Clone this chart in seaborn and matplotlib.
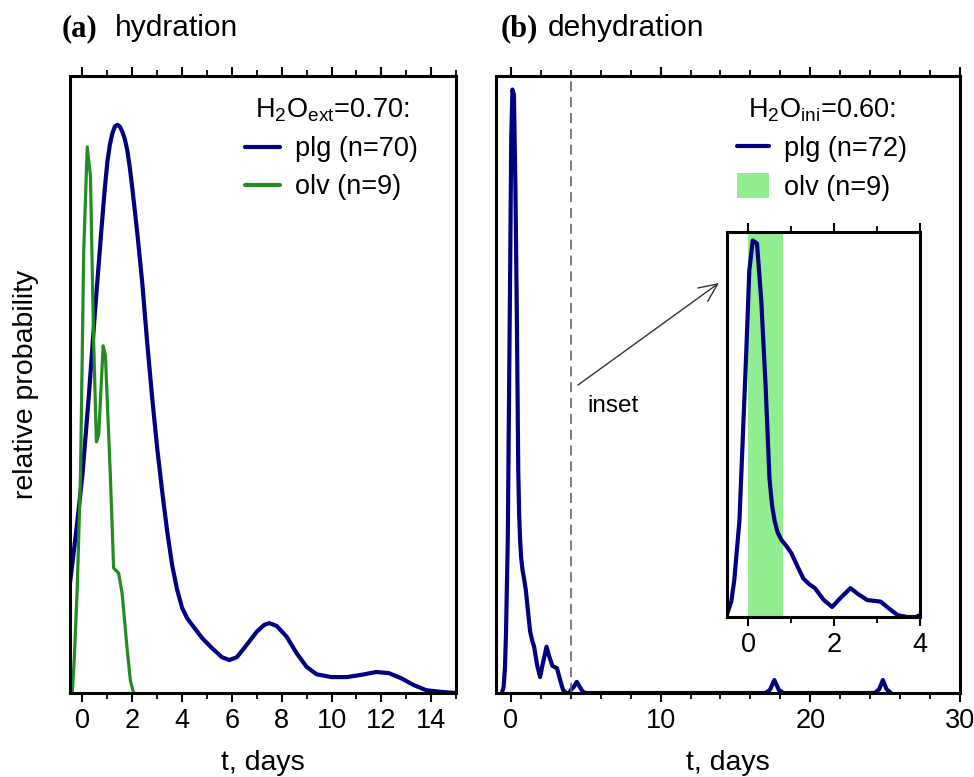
import numpy as np
import matplotlib
matplotlib.use('Agg')
from matplotlib import pyplot as plt
from matplotlib.lines import Line2D
from matplotlib.patches import Patch
from matplotlib.ticker import MultipleLocator
import seaborn as sns

# (a) hydration, H2O_ext = 0.70
t_plg_a = [-0.5, -0.25, 0.0, 0.25, 0.5, 0.75, 0.9, 1.0, 1.1, 1.2, 1.3, 1.4, 1.5, 1.6, 1.7, 1.8,
           1.9, 2.0, 2.2, 2.4, 2.6, 2.8, 3.0, 3.2, 3.4, 3.6, 3.8, 4.0, 4.2, 4.4, 4.8, 5.2, 5.6,
           5.9, 6.2, 6.6, 7.0, 7.3, 7.5, 7.8, 8.2, 8.6, 9.0, 9.4, 10.0, 10.6, 11.2, 11.8, 12.3,
           12.8, 13.3, 13.8, 14.4, 15.0]
p_plg_a = [0.194, 0.285, 0.385, 0.52, 0.67, 0.81, 0.89, 0.935, 0.965, 0.985, 0.997, 1.0, 0.997,
           0.988, 0.975, 0.955, 0.925, 0.889, 0.810, 0.722, 0.616, 0.519, 0.431, 0.355, 0.285,
           0.225, 0.182, 0.150, 0.132, 0.120, 0.097, 0.079, 0.063, 0.058, 0.063, 0.085, 0.108,
           0.120, 0.123, 0.118, 0.099, 0.070, 0.046, 0.033, 0.028, 0.028, 0.032, 0.037, 0.035,
           0.026, 0.014, 0.005, 0.002, 0.0]
t_olv_a = [-0.41, -0.33, -0.21, -0.08, 0.05, 0.19, 0.32, 0.45, 0.56, 0.65, 0.83, 0.92, 1.12,
           1.25, 1.45, 1.59, 1.79, 1.92, 2.05]
p_olv_a = [0.0, 0.06, 0.185, 0.382, 0.778, 0.961, 0.910, 0.614, 0.442, 0.454, 0.611, 0.595,
           0.382, 0.220, 0.211, 0.176, 0.079, 0.023, 0.0]

# (b) dehydration, H2O_ini = 0.60
t_plg_b = [-0.6, -0.49, -0.40, -0.33, -0.21, -0.13, -0.05, 0.02, 0.10, 0.20, 0.30, 0.40, 0.49,
           0.55, 0.61, 0.68, 0.77, 0.88, 1.0, 1.15, 1.28, 1.42, 1.55, 1.75, 1.95, 2.15, 2.38,
           2.55, 2.77, 3.08, 3.3, 3.48, 3.7, 3.9, 4.0, 4.2, 4.4, 4.6, 4.8, 5.0, 17.0, 17.3, 17.6,
           17.9, 18.2, 24.3, 24.6, 24.85, 25.1, 25.4]
p_plg_b = [0.0, 0.01, 0.04, 0.096, 0.25, 0.47, 0.69, 0.90, 0.978, 0.97, 0.82, 0.60, 0.36, 0.29,
           0.25, 0.22, 0.20, 0.185, 0.166, 0.13, 0.10, 0.085, 0.075, 0.045, 0.026, 0.05, 0.075,
           0.06, 0.044, 0.04, 0.02, 0.005, 0.0, 0.0, 0.005, 0.01, 0.018, 0.01, 0.002, 0.0, 0.0,
           0.005, 0.021, 0.005, 0.0, 0.0, 0.006, 0.021, 0.006, 0.0]
olv_span_b = [0.0, 0.8]
inset_cut = 4.0

blue = '#000080'
green = '#228B22'
lightgreen = '#90EE90'

sns.set_theme(style='ticks')
plt.rcParams['font.family'] = ['Liberation Sans', 'DejaVu Sans']
plt.rcParams['mathtext.fontset'] = 'custom'
plt.rcParams['mathtext.rm'] = 'Liberation Sans'
plt.rcParams['mathtext.it'] = 'Liberation Sans'
plt.rcParams['mathtext.default'] = 'regular'
plt.rcParams['axes.linewidth'] = 2.2
plt.rcParams['axes.edgecolor'] = 'black'
plt.rcParams['text.color'] = 'black'
plt.rcParams['axes.labelcolor'] = 'black'
plt.rcParams['xtick.color'] = 'black'
plt.rcParams['legend.labelcolor'] = 'black'


def style_axis(ax, major, minor, size=19.5):
    ax.xaxis.set_major_locator(MultipleLocator(major))
    ax.xaxis.set_minor_locator(MultipleLocator(minor))
    ax.tick_params(axis='x', which='both', direction='out', top=True, bottom=True,
                   labelsize=size, colors='black', labelcolor='black', pad=4)
    ax.tick_params(axis='x', which='major', length=6.5, width=1.5)
    ax.tick_params(axis='x', which='minor', length=4, width=1.3)
    ax.tick_params(axis='y', left=False, labelleft=False)
    ax.set_ylabel('')
    for s in ax.spines.values():
        s.set_visible(True)
        s.set_color('black')


fig = plt.figure(figsize=(9.74, 7.77), dpi=100)
ax1 = fig.add_axes([0.0719, 0.1081, 0.3963, 0.7941])
ax2 = fig.add_axes([0.5092, 0.1081, 0.4764, 0.7941])
ax3 = fig.add_axes([0.7464, 0.2059, 0.1982, 0.4955])

# panel (a)
sns.lineplot(x=t_plg_a, y=p_plg_a, ax=ax1, color=blue, lw=3.0, sort=False)
sns.lineplot(x=t_olv_a, y=p_olv_a, ax=ax1, color=green, lw=2.3, sort=False)
ax1.set_xlim(-0.5, 15)
ax1.set_ylim(0, 1.086)
style_axis(ax1, 2, 1)
ax1.set_xlabel('t, days', fontsize=20.5, labelpad=12)
ax1.set_ylabel('relative probability', fontsize=20.5, labelpad=22)
h1 = [Line2D([], [], color=blue, lw=3.0), Line2D([], [], color=green, lw=3.0)]
leg1 = ax1.legend(h1, ['plg (n=70)', 'olv (n=9)'], title='H$_2$O$_{ext}$=0.70:',
                  loc='upper right', bbox_to_anchor=(0.902, 0.967), frameon=False,
                  fontsize=19.5, title_fontsize=19.5, handlelength=1.3, handletextpad=0.55,
                  labelspacing=0.45, borderpad=0, borderaxespad=0)

# panel (b)
sns.lineplot(x=t_plg_b, y=p_plg_b, ax=ax2, color=blue, lw=3.0, sort=False)
ax2.axvline(inset_cut, color='#666666', lw=1.2, ls=(0, (6, 3.5)))
ax2.set_xlim(-1, 30)
ax2.set_ylim(0, 1.0)
style_axis(ax2, 10, 2)
ax2.set_xlabel('t, days', fontsize=20.5, labelpad=12)
h2 = [Line2D([], [], color=blue, lw=3.0), Patch(facecolor=lightgreen, edgecolor='none')]
leg2 = ax2.legend(h2, ['plg (n=72)', 'olv (n=9)'], title='H$_2$O$_{ini}$=0.60:',
                  loc='upper right', bbox_to_anchor=(0.886, 0.967), frameon=False,
                  fontsize=19.5, title_fontsize=19.5, handlelength=1.2, handleheight=1.05,
                  handletextpad=0.55, labelspacing=0.4, borderpad=0, borderaxespad=0)
ax2.annotate('', xy=(719, 777 - 283), xycoords='figure pixels',
             xytext=(578, 777 - 385), textcoords='figure pixels',
             arrowprops=dict(arrowstyle='->,head_length=1.1,head_width=0.5', color='#333333',
                             lw=1.0, shrinkA=0, shrinkB=0))
fig.text(587 / 974, 1 - 412 / 777, 'inset', fontsize=17.5, va='baseline', ha='left')

# inset
ax3.axvspan(olv_span_b[0], olv_span_b[1], color=lightgreen, lw=0, zorder=0)
sns.lineplot(x=t_plg_b, y=p_plg_b, ax=ax3, color=blue, lw=3.0, sort=False)
ax3.set_xlim(-0.5, 4)
ax3.set_ylim(0, 1.0)
style_axis(ax3, 2, 1)
ax3.set_xlabel('')
ax3.set_facecolor('white')

# panel titles
fig.text(62 / 974, 1 - 36 / 777, '(a)', fontsize=22, fontweight='bold',
         family=['Liberation Serif', 'DejaVu Serif'], va='baseline')
fig.text(115 / 974, 1 - 36 / 777, 'hydration', fontsize=21.5, va='baseline')
fig.text(501 / 974, 1 - 36 / 777, '(b)', fontsize=22, fontweight='bold',
         family=['Liberation Serif', 'DejaVu Serif'], va='baseline')
fig.text(548 / 974, 1 - 36 / 777, 'dehydration', fontsize=21.5, va='baseline')

fig.savefig('out.png', dpi=100)
